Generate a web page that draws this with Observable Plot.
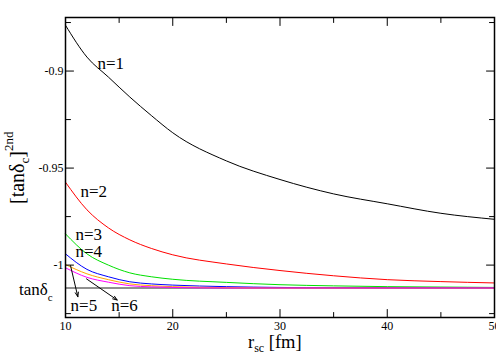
<!DOCTYPE html>
<html><head><meta charset="utf-8">
<script src="https://cdn.jsdelivr.net/npm/d3@7"></script>
<script src="https://cdn.jsdelivr.net/npm/@observablehq/plot@0.6"></script>
<style>body{margin:0;background:#fff} svg{display:block;background:#fff}</style>
</head><body><div id="chart"></div>
<script>
// x values (r_sc in fm)
const rsc = [10, 12, 14, 16, 18, 20, 25, 30, 35, 40, 45, 50];
// [tan delta_c]^2nd for n = 1..6
const n1 = [-0.8764, -0.8928, -0.9031, -0.9134, -0.9229, -0.9318, -0.9463, -0.9559, -0.9633, -0.9684, -0.9733, -0.9764];
const n2 = [-0.9573, -0.9715, -0.9808, -0.9870, -0.9914, -0.9947, -0.9994, -1.0028, -1.0055, -1.0075, -1.0085, -1.0092];
const n3 = [-0.9839, -0.9942, -1.0000, -1.0040, -1.0060, -1.0073, -1.0089, -1.0101, -1.0107, -1.0111, -1.0113, -1.0115];
const n4 = [-0.9942, -1.0022, -1.0060, -1.0086, -1.0097, -1.0103, -1.0111, -1.0115, -1.0117, -1.0117, -1.0117, -1.0117];
const n5 = [-0.9997, -1.0045, -1.0075, -1.0097, -1.0106, -1.0111, -1.0116, -1.0118, -1.0118, -1.0118, -1.0118, -1.0118];
const n6 = [-1.0014, -1.0063, -1.0088, -1.0106, -1.0112, -1.0115, -1.0118, -1.0118, -1.0118, -1.0118, -1.0118, -1.0118];
const seriesNames = ["n=1", "n=2", "n=3", "n=4", "n=5", "n=6"];
const seriesColors = ["#000000", "#ff0000", "#00e000", "#0000ff", "#ffa500", "#ff00ff"];
// exact tan delta_c
const tanDc = -1.0118;

// curve labels
const labelText = ["n=1", "n=2", "n=3", "n=4", "n=5", "n=6"];
const labelX = [12.98, 11.40, 10.93, 10.93, 10.47, 14.26];
const labelY = [-0.8988, -0.9650, -0.9870, -0.9960, -1.0235, -1.0235];

// arrows pointing from curves to labels n=5, n=6
const arrowX1 = [10.47, 11.96];
const arrowY1 = [-1.0003, -1.0071];
const arrowX2 = [11.15, 14.82];
const arrowY2 = [-1.0163, -1.0180];

// ticks
const xMajor = [10, 20, 30, 40, 50];
const xMinor = [15, 25, 35, 45];
const yMajor = [-1, -0.95, -0.9];
const yMinor = [-1.025, -0.975, -0.925, -0.875];
const yTickLabels = ["-1", "-0.95", "-0.9"];

const seriesValues = [n1, n2, n3, n4, n5, n6];
const rows = [];
seriesValues.forEach((vals, k) => vals.forEach((v, i) => rows.push({x: rsc[i], y: v, s: seriesNames[k]})));
const labels = labelText.map((t, i) => ({t, x: labelX[i], y: labelY[i]}));
const arrows = arrowX1.map((_, i) => ({x1: arrowX1[i], y1: arrowY1[i], x2: arrowX2[i], y2: arrowY2[i]}));

const tickShape = {draw(ctx, l) { ctx.moveTo(0, 0); ctx.lineTo(0, -l); }};
function ticks(data, axis, side, len) {
  const rot = {bottom: 0, top: 180, left: 90, right: -90}[side];
  const o = {frameAnchor: side, length: len, rotate: rot, anchor: "start", shape: tickShape, stroke: "black", strokeWidth: 1};
  if (axis === "x") o.x = d => d; else o.y = d => d;
  return Plot.vector(data, o);
}

const plot = Plot.plot({
  width: 496,
  height: 354,
  marginLeft: 65,
  marginRight: 2,
  marginTop: 17,
  marginBottom: 37,
  style: {background: "white", overflow: "visible"},
  x: {domain: [10, 50], label: null},
  y: {domain: [-1.027, -0.8724], label: null},
  color: {domain: seriesNames, range: seriesColors},
  marks: [
    Plot.ruleY([tanDc], {stroke: "#222", strokeWidth: 1.2}),
    Plot.line(rows, {x: "x", y: "y", z: "s", stroke: "s", strokeWidth: 1, curve: "monotone-x"}),
    Plot.arrow(arrows, {x1: "x1", y1: "y1", x2: "x2", y2: "y2", stroke: "black", strokeWidth: 1, headLength: 7, headAngle: 40}),
    Plot.text(labels, {x: "x", y: "y", text: "t", textAnchor: "start", lineAnchor: "bottom", fontSize: 17, fill: "black"}),
    Plot.axisX(xMajor, {anchor: "bottom", tickSize: 0, tickPadding: 4, fontSize: 12, label: null, tickFormat: d => String(d)}),
    Plot.axisY(yMajor, {anchor: "left", tickSize: 0, tickPadding: 2, fontSize: 12, label: null, tickFormat: d => yTickLabels[yMajor.indexOf(d)]}),
    ticks(xMajor, "x", "bottom", 8), ticks(xMinor, "x", "bottom", 5),
    ticks(xMajor, "x", "top", 8), ticks(xMinor, "x", "top", 5),
    ticks(yMajor, "y", "left", 8), ticks(yMinor, "y", "left", 5),
    ticks(yMajor, "y", "right", 8), ticks(yMinor, "y", "right", 5),
    Plot.frame({stroke: "black", strokeWidth: 1.5})
  ]
});

const svg = d3.select(plot);
const ys = plot.scale("y");
// tan delta_c label at the reference line
const tl = svg.append("text").attr("text-anchor", "start").attr("font-size", 17)
  .attr("transform", `translate(19,${ys.apply(tanDc) + 7})`);
tl.append("tspan").text("tanδ");
tl.append("tspan").attr("font-size", 11).attr("dy", 6).text("c");

// x axis title
const xt = svg.append("text").attr("text-anchor", "start").attr("font-size", 18.5)
  .attr("transform", "translate(248,348)");
xt.append("tspan").text("r");
xt.append("tspan").attr("font-size", 12).attr("dy", 4).text("sc");
xt.append("tspan").attr("dy", -4).text("\u00a0[fm]");

// y axis title
const yt = svg.append("text").attr("text-anchor", "start").attr("font-size", 20)
  .attr("transform", "translate(24,204) rotate(-90)");
yt.append("tspan").text("[tanδ");
yt.append("tspan").attr("font-size", 13).attr("dy", 5).text("c");
yt.append("tspan").attr("dy", -5).text("]");
yt.append("tspan").attr("font-size", 13).attr("dy", -11).text("2nd");

// serif font on every text, as inline style
svg.selectAll("text, tspan").style("font-family", "'Liberation Serif', 'Times New Roman', serif");
svg.attr("font-family", "Liberation Serif");

document.getElementById("chart").appendChild(plot);
</script>
</body></html>
